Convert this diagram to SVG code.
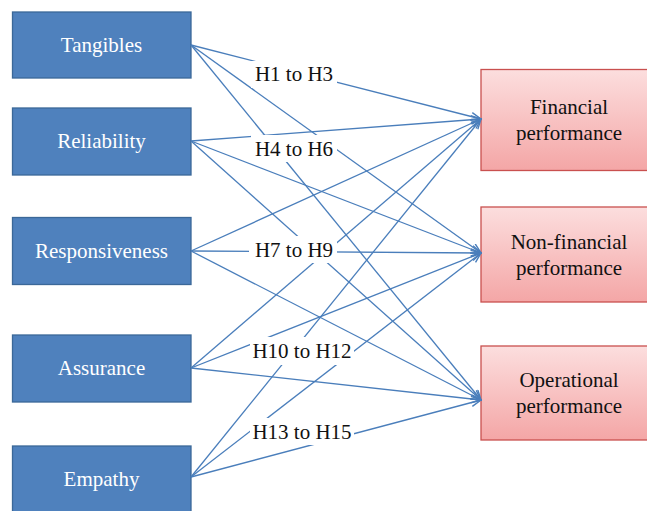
<svg xmlns="http://www.w3.org/2000/svg" width="647" height="511" viewBox="0 0 647 511">
<defs>
<linearGradient id="pink" x1="0" y1="0" x2="0" y2="1">
<stop offset="0" stop-color="#FCDEDE"/>
<stop offset="1" stop-color="#F4A6A6"/>
</linearGradient>
<marker id="arr" markerUnits="userSpaceOnUse" markerWidth="12" markerHeight="10" refX="11" refY="4.5" orient="auto">
<path d="M1,0.5 L11,4.5 L1,8.5" fill="none" stroke="#4A7EBB" stroke-width="1.4"/>
</marker>
<style>
text{font-family:'Liberation Serif','Times New Roman','DejaVu Serif',serif;font-size:21px;text-anchor:middle}
.src rect{fill:#4F81BD;stroke:#3B6898;stroke-width:1.3}
.src text{fill:#fff}
.dst rect{fill:url(#pink);stroke:#C9504F;stroke-width:1.3}
.dst text{fill:#111}
#connectors line{stroke:#4A7EBB;stroke-width:1.3;marker-end:url(#arr)}
.lbl rect{fill:#fff}
.lbl text{fill:#111}
</style>
</defs>
<rect width="647" height="511" fill="#fff"/>

<g id="tangibles" class="src"><rect x="12.5" y="12" width="178.5" height="66"/><text x="101.5" y="52">Tangibles</text></g>
<g id="reliability" class="src"><rect x="12.5" y="108" width="178.5" height="67"/><text x="101.5" y="148">Reliability</text></g>
<g id="responsiveness" class="src"><rect x="12.5" y="217.5" width="178.5" height="67"/><text x="101.5" y="258">Responsiveness</text></g>
<g id="assurance" class="src"><rect x="12.5" y="335" width="178.5" height="67"/><text x="101.5" y="375">Assurance</text></g>
<g id="empathy" class="src"><rect x="12.5" y="446" width="178.5" height="67"/><text x="101.5" y="486">Empathy</text></g>

<g id="financial" class="dst"><rect x="481" y="69.5" width="180" height="101"/><text x="569" y="114">Financial</text><text x="569" y="140">performance</text></g>
<g id="nonfinancial" class="dst"><rect x="481" y="207" width="180" height="95"/><text x="569" y="248.5">Non-financial</text><text x="569" y="275">performance</text></g>
<g id="operational" class="dst"><rect x="481" y="346" width="180" height="94"/><text x="569" y="387">Operational</text><text x="569" y="413">performance</text></g>

<g id="connectors">
<line x1="191" y1="45" x2="481" y2="119"/>
<line x1="191" y1="45" x2="481" y2="253"/>
<line x1="191" y1="45" x2="481" y2="400"/>
<line x1="191" y1="141" x2="481" y2="119"/>
<line x1="191" y1="141" x2="481" y2="253"/>
<line x1="191" y1="141" x2="481" y2="400"/>
<line x1="191" y1="251" x2="481" y2="119"/>
<line x1="191" y1="251" x2="481" y2="253"/>
<line x1="191" y1="251" x2="481" y2="400"/>
<line x1="191" y1="368" x2="481" y2="119"/>
<line x1="191" y1="368" x2="481" y2="253"/>
<line x1="191" y1="368" x2="481" y2="400"/>
<line x1="191" y1="477" x2="481" y2="119"/>
<line x1="191" y1="477" x2="481" y2="253"/>
<line x1="191" y1="477" x2="481" y2="400"/>
</g>

<g id="labels">
<g id="lbl-h1" class="lbl"><rect x="251" y="61" width="86" height="27"/><text x="294" y="81">H1 to H3</text></g>
<g id="lbl-h4" class="lbl"><rect x="251" y="135" width="86" height="27"/><text x="294" y="156">H4 to H6</text></g>
<g id="lbl-h7" class="lbl"><rect x="249" y="236" width="88" height="27"/><text x="294" y="257">H7 to H9</text></g>
<g id="lbl-h10" class="lbl"><rect x="250" y="337" width="104" height="28"/><text x="302" y="358">H10 to H12</text></g>
<g id="lbl-h13" class="lbl"><rect x="250" y="418" width="104" height="27"/><text x="302" y="438.5">H13 to H15</text></g>
</g>
</svg>
